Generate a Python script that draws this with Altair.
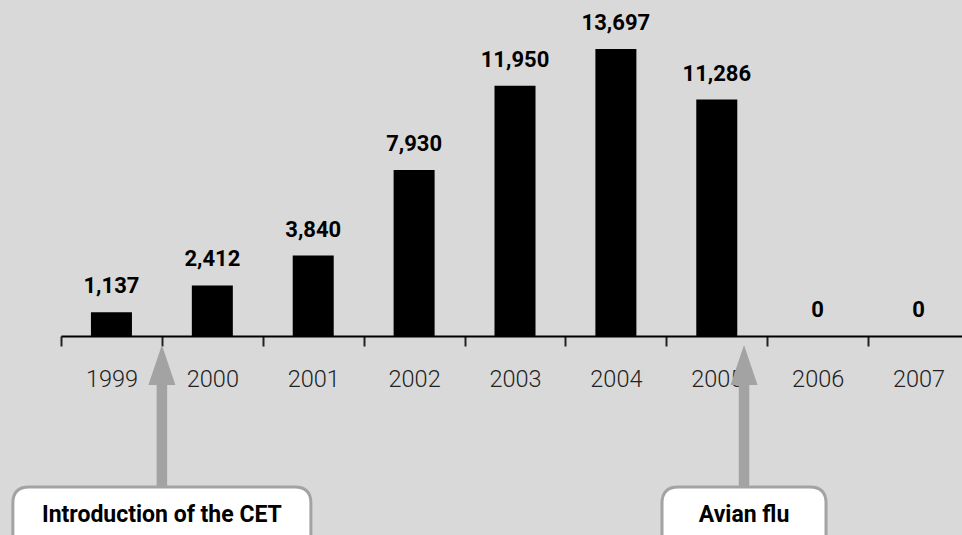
import altair as alt
import pandas as pd

# ---- data ----
years = ["1999", "2000", "2001", "2002", "2003", "2004", "2005", "2006", "2007"]
values = [1137, 2412, 3840, 7930, 11950, 13697, 11286, 0, 0]

ann_text = ["Introduction of the CET", "Avian flu"]
ann_year = ["2000", "2005"]
ann_band = [0.0, 0.77]      # position of the arrow inside the year's band
ann_box_w = [298, 164]      # pixel width of each call-out box

GRAY = "#a3a3a3"

df = pd.DataFrame({"year": years, "value": values})

x_enc = alt.X(
    "year:N",
    sort=years,
    scale=alt.Scale(domain=years, paddingInner=0, paddingOuter=0, range=[0, 908]),
    axis=alt.Axis(
        title=None, labelAngle=0, tickBand="extent", tickSize=10, tickWidth=2,
        tickColor="#222222", domainColor="#000000", domainWidth=2,
        labelFont="Roboto", labelFontWeight=300, labelFontSize=23.5,
        labelColor="#222222", labelPadding=21, grid=False,
    ),
)
y_enc = alt.Y("value:Q", scale=alt.Scale(domain=[0, 16040], nice=False, zero=True), axis=None)

bars = alt.Chart(df).mark_bar(size=41, color="#000000").encode(x=x_enc, y=y_enc)
vals = alt.Chart(df).mark_text(
    font="Roboto", fontWeight="bold", fontSize=22, dy=-19,
    baseline="alphabetic", color="#000000",
).encode(x=x_enc, y=y_enc, text=alt.Text("value:Q", format=","))

layers = [bars, vals]


def box_path(w, h=74.5, r=16):
    """Rounded-top rectangle in symbol units (scale = w/2 px per unit)."""
    s = w / 2.0
    rr = r / s
    hh = h / s
    return (f"M-1,{rr:.4f} Q-1,0 {-1 + rr:.4f},0 L{1 - rr:.4f},0 Q1,0 1,{rr:.4f} "
            f"L1,{hh:.4f} L-1,{hh:.4f} Z")


for i in range(len(ann_text)):
    d = pd.DataFrame({"year": [ann_year[i]], "text": [ann_text[i]]})
    ax = alt.X("year:N", bandPosition=ann_band[i])
    base = alt.Chart(d)
    shaft = base.mark_rule(color=GRAY, strokeWidth=10.5).encode(
        x=ax, y=alt.datum(-2300), y2=alt.datum(-7300))
    head = base.mark_point(
        shape="M0,-1L0.675,1L-0.675,1Z", size=1600, filled=True,
        color=GRAY, opacity=1,
    ).encode(x=ax, y=alt.datum(-1384))
    box = base.mark_point(
        shape=box_path(ann_box_w[i]), size=ann_box_w[i] ** 2, filled=True,
        fill="#ffffff", stroke=GRAY, strokeWidth=3, opacity=1,
    ).encode(x=ax, y=alt.datum(-7208))
    lab = base.mark_text(
        font="Roboto", fontWeight="bold", fontSize=23, baseline="alphabetic",
        color="#000000",
    ).encode(x=ax, y=alt.datum(-8880), text="text:N")
    layers += [shaft, head, box, lab]

chart = alt.layer(*layers).properties(
    width=901, height=336,
    autosize=alt.AutoSizeParams(type="none"),
    padding={"left": 61, "top": 0, "right": 0, "bottom": 199},
).configure(background="#d9d9d9").configure_view(stroke=None)

chart.save("out.html", embed_options={"renderer": "svg", "actions": False})
